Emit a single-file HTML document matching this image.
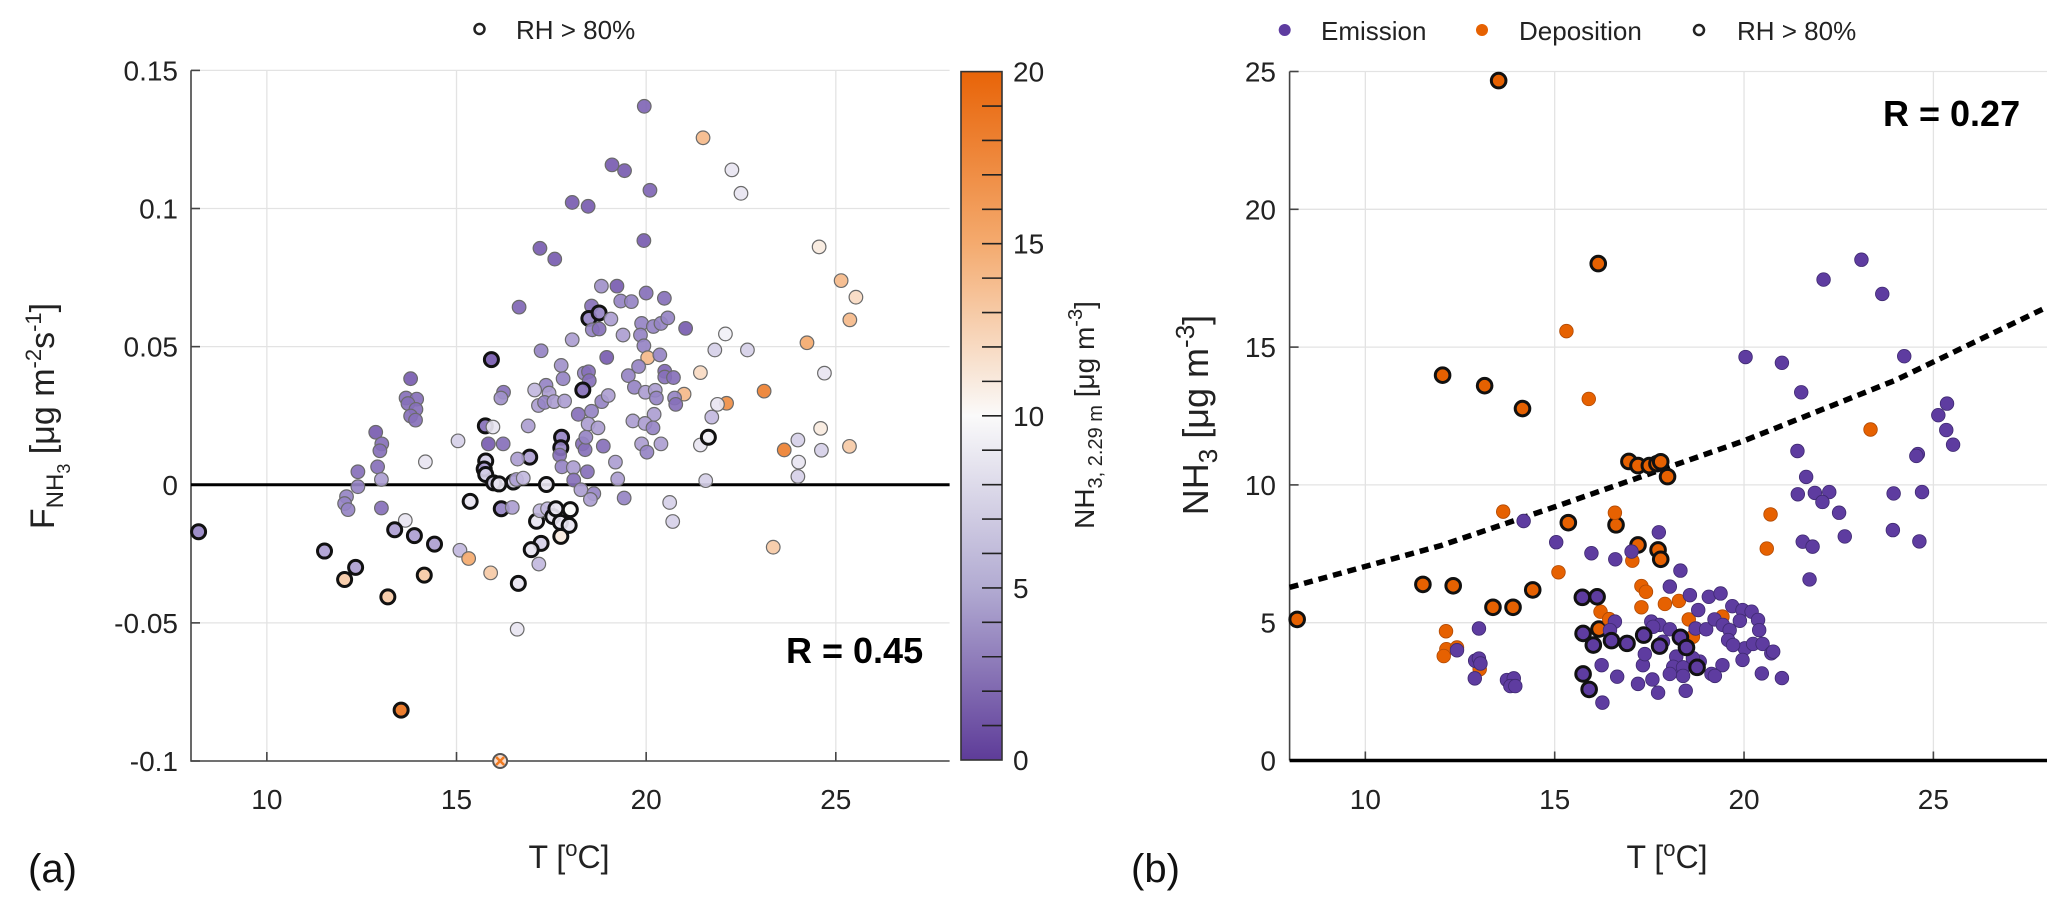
<!DOCTYPE html>
<html><head><meta charset="utf-8"><style>
html,body{margin:0;padding:0;background:#fff;}
svg{display:block;font-family:"Liberation Sans",Arial,sans-serif;}
</style></head><body>
<svg id="fig" width="2067" height="909" viewBox="0 0 2067 909" xmlns="http://www.w3.org/2000/svg">
<defs>
<linearGradient id="cmap" x1="0" y1="1" x2="0" y2="0">
<stop offset="0" stop-color="rgb(94,60,153)"/>
<stop offset="0.25" stop-color="rgb(178,171,210)"/>
<stop offset="0.5" stop-color="rgb(250,250,250)"/>
<stop offset="0.75" stop-color="rgb(244,170,110)"/>
<stop offset="1" stop-color="rgb(232,100,8)"/>
</linearGradient>
</defs>
<g id="pa"></g>
<g id="pb"></g>
</svg>
<script>
// ---------- Panel (a) data ----------
const aX = [8.2,19.95,21.5,22.26,22.5,19.1,19.43,20.1,18.05,18.47,19.94,17.2,17.59,16.65,24.56,18.82,19.23,19.33,19.61,20.0,20.48,18.56,18.49,18.76,19.07,18.58,18.76,19.39,18.05,19.88,20.19,20.39,20.57,21.04,22.09,19.85,19.94,21.81,22.67,24.24,17.23,18.96,20.04,20.36,15.92,17.76,19.8,21.43,24.7,13.79,17.81,18.37,18.48,19.53,20.49,20.49,20.72,18.5,17.36,17.06,18.33,19.69,19.98,20.24,21.0,23.11,22.12,21.88,13.67,13.95,13.72,13.93,13.79,13.92,16.24,16.17,17.44,17.16,17.32,17.57,17.85,18.83,19.0,20.27,20.75,20.78,18.21,18.56,20.21,21.73,18.47,18.73,19.65,19.97,20.18,16.89,15.76,15.96,12.87,13.03,12.98,15.04,14.18,12.92,12.4,13.02,12.4,12.1,12.05,12.14,13.02,15.84,16.23,15.77,15.73,15.77,15.98,16.12,16.5,16.58,16.76,16.93,16.61,17.37,17.77,17.75,17.72,17.78,18.08,18.09,18.45,18.32,18.39,18.87,18.41,19.19,19.25,19.88,20.02,20.39,21.43,21.64,21.57,23.64,24.6,24.0,24.02,24.0,24.62,20.62,20.7,19.42,18.28,18.62,18.53,15.36,16.18,16.47,17.11,17.2,17.4,17.54,17.62,17.74,18.0,17.97,17.75,17.23,16.97,17.17,13.65,13.37,13.89,14.42,11.52,15.09,15.32,12.34,15.9,14.15,12.05,16.63,13.19,23.35,25.14,25.53,25.37,25.36,16.6,13.54];
const aY = [-0.017,0.137,0.1256,0.114,0.1055,0.1158,0.1137,0.1066,0.1022,0.1008,0.0884,0.0856,0.0817,0.0643,0.0861,0.0719,0.0719,0.0665,0.0663,0.0694,0.0675,0.0647,0.0602,0.0622,0.06,0.0561,0.0564,0.0542,0.0525,0.0584,0.0573,0.0584,0.0604,0.0566,0.0546,0.0542,0.0503,0.0488,0.0488,0.0514,0.0485,0.0461,0.046,0.047,0.0453,0.0432,0.0428,0.0406,0.0404,0.0384,0.0384,0.0404,0.0409,0.0395,0.0411,0.039,0.0388,0.0377,0.036,0.0343,0.0343,0.0353,0.0335,0.0342,0.0328,0.0339,0.0295,0.0291,0.0314,0.031,0.0294,0.0273,0.0249,0.0234,0.0335,0.0314,0.0332,0.0287,0.0298,0.0301,0.0303,0.0301,0.0323,0.0314,0.0314,0.0291,0.0255,0.0266,0.0255,0.0245,0.022,0.0206,0.0231,0.0222,0.0206,0.0213,0.0213,0.0209,0.019,0.0148,0.0123,0.0159,0.0083,0.0065,0.0047,0.0019,-0.0007,-0.0043,-0.0068,-0.009,-0.0084,0.0148,0.0148,0.0086,0.0057,0.0037,0.0007,0.0003,0.001,0.0019,0.0024,0.01,0.0093,0.0001,0.0172,0.0134,0.0107,0.0065,0.0062,0.0017,0.0047,0.0148,0.0127,0.014,0.0172,0.0082,0.0021,0.0148,0.0118,0.0148,0.0144,0.0172,0.0015,0.0126,0.0204,0.0162,0.0082,0.003,0.0125,-0.0064,-0.0133,-0.0048,-0.0018,-0.0032,-0.0053,-0.006,-0.0087,-0.0082,-0.0132,-0.0094,-0.0087,-0.0115,-0.0087,-0.0136,-0.009,-0.0147,-0.0187,-0.0212,-0.0235,-0.0287,-0.0129,-0.0163,-0.0184,-0.0215,-0.024,-0.0237,-0.0267,-0.0299,-0.0319,-0.0327,-0.0343,-0.0357,-0.0406,-0.0226,0.0739,0.0679,0.0597,0.0139,-0.0523,-0.0816];
const aC = [5,3.5,14,9,9,3,3,3.5,3,3,3,3,3,3.5,11,5.5,3,5,5,4,4,4,5,5,6,5,4,6,6,5,5,5,5,3,9.5,5,5,8,8,15,5,3,14,5,3,5.5,5,12,9,3,5,5,4,5,3.5,4,4,4,5,7,4,5,6,6,14,18,17,9,4,4,4,4,4,4,4,5.5,6,6,5,6,6,5,6,5,5,4,4,5,6,7,6,6,6,6,5,6,4,9,3,4,4,8,9,4,4,6,5,5,5,5,4,3,4,8,6,8,8,9,8,6,7,6,6,9,5,5,4,5,6,4,4,4,4,4,5,6,6,6,5,6,9,9.5,8,18,11,8,9,8,8,8,8,5,6,5,6,9,5,6,9,7,7,9,9,9,10,9,11,8,9,7,9,6,6,6,6,7,15,6,13,13,13,9,13,13,14,12,14,13,9,19];
// 1-based indices of points with RH > 80% (bold outline)
const aBoldIdx = [1,23,24,45,61,97,114,115,116,117,118,119,122,124,125,126,142,156,157,159,162,163,164,165,166,167,168,169,172,173,174,175,178,180,181,182,183,190];
const aSpecialX = [16.15];
const aSpecialY = [-0.1];
const aYTicks = [0.15,0.1,0.05,0,-0.05,-0.1];
const aYTickLabels = ["0.15","0.1","0.05","0","-0.05","-0.1"];
const xTicks = [10,15,20,25];
const cbTicks = [20,15,10,5,0];

// ---------- Panel (b) data ----------
const bX = [13.52,16.15,12.04,13.15,14.15,16.96,17.2,17.5,17.7,17.8,17.98,15.36,16.62,17.2,17.73,17.8,8.2,11.52,12.32,13.37,13.9,14.42,16.17,
15.31,15.9,13.64,16.59,17.05,15.1,12.13,12.14,12.07,12.42,13.02,23.34,20.7,20.6,19.42,17.29,17.41,17.29,17.91,18.28,16.21,16.44,18.54,19.43,18.65,
14.18,15.04,15.97,17.03,16.6,23.1,22.1,23.65,20.04,21.0,24.23,21.51,25.36,25.13,25.34,25.52,21.41,24.59,24.55,21.42,21.87,22.25,22.07,22.51,23.95,24.7,21.55,21.81,22.66,23.93,24.63,21.73,21.0,20.47,13.0,12.42,12.9,13.0,13.04,12.89,13.74,13.92,13.83,13.96,
18.32,18.04,18.57,19.07,19.38,16.59,17.55,17.77,18.04,18.79,18.72,19.0,19.22,19.44,19.69,19.96,20.2,19.89,20.37,20.4,19.62,19.58,20.02,20.24,20.49,20.72,20.77,19.96,19.71,19.43,19.14,19.23,18.83,18.65,18.21,18.13,18.39,18.39,18.04,18.46,17.73,17.58,17.2,17.33,17.38,16.65,16.24,16.26,16.46,17.6,17.86,
17.75,21.64,15.73,16.12,15.75,16.02,16.5,16.91,17.35,17.77,18.32,18.48,18.76,15.75,15.91];
const bY = [24.67,18.03,13.98,13.6,12.77,10.85,10.7,10.7,10.77,10.84,10.3,8.63,8.55,7.82,7.64,7.3,5.12,6.39,6.34,5.56,5.56,6.19,4.77,
15.58,13.12,9.03,8.99,7.25,6.83,4.69,4.04,3.79,4.1,3.31,12.01,8.93,7.69,5.19,6.33,6.12,5.56,5.68,5.79,5.4,5.13,5.12,5.22,4.49,
8.69,7.92,7.52,7.58,7.3,18.17,17.45,16.93,14.64,14.43,14.67,13.36,12.95,12.53,11.99,11.46,11.23,11.12,11.05,9.66,9.71,9.74,9.38,8.99,9.69,9.74,7.94,7.76,8.13,8.36,7.95,6.57,2.99,3.16,4.79,4.0,3.62,3.7,3.52,2.98,2.92,2.98,2.7,2.7,
6.89,6.31,6.0,5.94,6.06,5.04,5.04,4.92,4.76,5.46,4.79,4.76,5.12,4.92,5.6,5.46,5.4,5.07,5.1,4.73,4.73,4.37,4.07,4.23,4.23,3.89,3.95,3.65,4.19,3.46,3.14,3.07,3.59,3.71,3.77,3.4,3.38,3.07,3.14,2.53,2.46,2.94,2.78,3.46,3.86,3.04,3.46,2.1,4.73,4.85,4.31,
8.28,10.29,5.92,5.94,4.61,4.19,4.35,4.25,4.55,4.15,4.47,4.1,3.38,3.14,2.58];
const bType = "ddddddddddddddddddddddd"+"ddddddddddddddddddddddddd"+"eeeeeeeeeeeeeeeeeeeeeeeeeeeeeeeeeeeeeeeeeeeeee"+"eeeeeeeeeeeeeeeeeeeeeeeeeeeeeeeeeeeeeeeeeeeeeeeeeee"+"eeeeeeeeeeeeeee";
const bRH = "11111111111111111111111"+"0000000000000000000000000"+"0000000000000000000000000000000000000000000000"+"000000000000000000000000000000000000000000000000000"+"111111111111111";
const fitX = [8,12,15,20,24,28];
const fitY = [6.28,7.8,9.2,11.6,13.8,16.45];
const bYTicks = [0,5,10,15,20,25];

// ---------- helpers ----------
const NS = "http://www.w3.org/2000/svg";
function mk(parent, tag, attrs, text){
  const e = document.createElementNS(NS, tag);
  for (const k in attrs) e.setAttribute(k, attrs[k]);
  if (text !== undefined) e.textContent = text;
  parent.appendChild(e);
  return e;
}
const A = {x0:8,x1:28,px0:191,px1:949.6,y0:-0.1,y1:0.15,py0:761,py1:70.4};
function axA(x){return A.px0+(x-A.x0)*(A.px1-A.px0)/(A.x1-A.x0);}
function ayA(y){return A.py0+(y-A.y0)*(A.py1-A.py0)/(A.y1-A.y0);}
const B = {x0:8,x1:28,px0:1289.6,px1:2047,y0:0,y1:25,py0:760.5,py1:71.5};
function axB(x){return B.px0+(x-B.x0)*(B.px1-B.px0)/(B.x1-B.x0);}
function ayB(y){return B.py0+(y-B.y0)*(B.py1-B.py0)/(B.y1-B.y0);}
function cmap(c){
  const st=[[0,94,60,153],[3,120,92,176],[5,150,132,196],[7.5,205,198,228],[10,250,250,250],[15,244,170,110],[20,232,100,8]];
  c=Math.max(0,Math.min(20,c));
  for(let i=0;i<st.length-1;i++){
    if(c<=st[i+1][0]){const t=(c-st[i][0])/(st[i+1][0]-st[i][0]);
      const r=Math.round(st[i][1]+t*(st[i+1][1]-st[i][1])),g=Math.round(st[i][2]+t*(st[i+1][2]-st[i][2])),b=Math.round(st[i][3]+t*(st[i+1][3]-st[i][3]));
      return `rgb(${r},${g},${b})`;}
  }
  return "rgb(232,100,8)";
}

// ---------- Panel (a) ----------
const pa = document.getElementById("pa");
const gridA = mk(pa,"g",{});


xTicks.forEach(t=>{
  const l=mk(gridA,"line",{x1:axA(t),x2:axA(t),y1:A.py1,y2:A.py0,stroke:"#e3e3e3","stroke-width":1.3});
  
  
});
aYTicks.forEach(t=>{
  const l=mk(gridA,"line",{x1:A.px0,x2:A.px1,y1:ayA(t),y2:ayA(t),stroke:"#e3e3e3","stroke-width":1.3});
  
  
});
const axl=mk(pa,"path",{d:`M${A.px0},${A.py1} V${A.py0} H${A.px1}`,fill:"none",stroke:"#444","stroke-width":1.6});


aYTicks.forEach((t,i)=>{
  mk(pa,"line",{x1:A.px0,x2:A.px0+9,y1:ayA(t),y2:ayA(t),stroke:"#444","stroke-width":1.6});
  const tx=mk(pa,"text",{x:178,y:ayA(t)+10,"text-anchor":"end","font-size":28,fill:"#222"},aYTickLabels[i]);
  
  
});
xTicks.forEach(t=>{
  mk(pa,"line",{x1:axA(t),x2:axA(t),y1:A.py0,y2:A.py0-9,stroke:"#444","stroke-width":1.6});
  const tx=mk(pa,"text",{x:axA(t),y:809,"text-anchor":"middle","font-size":28,fill:"#222"},String(t));
  
  
});
const zl=mk(pa,"line",{x1:A.px0,x2:A.px1,y1:ayA(0),y2:ayA(0),stroke:"#000","stroke-width":3});


const boldSet = new Set(aBoldIdx.map(k=>k-1));
for(let i=0;i<aX.length;i++){
  const bold=boldSet.has(i);
  const c=mk(pa,"circle",{cx:axA(aX[i]),cy:ayA(aY[i]),r:bold?7:6.8,fill:cmap(aC[i]),"fill-opacity":0.92,stroke:bold?"#111":"#6a6a6a","stroke-width":bold?3:1.2});
  
  
}
for(let i=0;i<aSpecialX.length;i++){
  const cx=axA(aSpecialX[i]),cy=ayA(aSpecialY[i]);
  const c=mk(pa,"circle",{cx:cx,cy:cy,r:7,fill:"#f8dccb",stroke:"#555","stroke-width":2});
  
  
  mk(pa,"path",{d:`M${cx-4},${cy-4}L${cx+4},${cy+4}M${cx+4},${cy-4}L${cx-4},${cy+4}`,stroke:"#f07a20","stroke-width":2.5});
}
const ra=mk(pa,"text",{x:786,y:663,"font-size":36,"font-weight":"bold",fill:"#000"},"R = 0.45");


const lga=mk(pa,"g",{});


mk(lga,"circle",{cx:479.5,cy:29,r:5,fill:"#fff",stroke:"#222","stroke-width":2.5});
mk(lga,"text",{x:516,y:39,"font-size":26,fill:"#222"},"RH > 80%");
const xta=mk(pa,"text",{x:569,y:868,"text-anchor":"middle","font-size":32,fill:"#222"});


xta.innerHTML='T [<tspan dy="-12" font-size="22">o</tspan><tspan dy="12">C]</tspan>';
const yta=mk(pa,"text",{x:0,y:0,"text-anchor":"middle","font-size":34,fill:"#222",transform:"translate(54,416) rotate(-90)"});


yta.innerHTML='F<tspan dy="9" font-size="24">NH</tspan><tspan dy="7" font-size="18">3</tspan><tspan dy="-16"> [μg m</tspan><tspan dy="-13" font-size="22">-2</tspan><tspan dy="13">s</tspan><tspan dy="-13" font-size="22">-1</tspan><tspan dy="13">]</tspan>';
const la=mk(pa,"text",{x:28,y:882,"font-size":40,fill:"#111"},"(a)");


const cb=mk(pa,"g",{});


const cbTop=71.6,cbBot=760,cbL=961,cbR=1002;
mk(cb,"rect",{x:cbL,y:cbTop,width:cbR-cbL,height:cbBot-cbTop,fill:"url(#cmap)",stroke:"#333","stroke-width":1.6});
function cbY(v){return cbBot+(v-0)*(cbTop-cbBot)/20;}
for(let v=1;v<20;v++){
  mk(cb,"line",{x1:cbR-20,x2:cbR,y1:cbY(v),y2:cbY(v),stroke:"#222","stroke-width":1.6});
}
cbTicks.forEach(v=>{
  const tx=mk(cb,"text",{x:1013,y:cbY(v)+10,"font-size":28,fill:"#222"},String(v));
  
  
});
const cbl=mk(cb,"text",{x:0,y:0,"text-anchor":"middle","font-size":28,fill:"#222",transform:"translate(1094,415) rotate(-90)"});


cbl.innerHTML='NH<tspan dy="8" font-size="20">3, 2.29 m</tspan><tspan dy="-8"> [μg m</tspan><tspan dy="-12" font-size="20">-3</tspan><tspan dy="12">]</tspan>';

// ---------- Panel (b) ----------
const pb=document.getElementById("pb");
const gridB=mk(pb,"g",{});


xTicks.forEach(t=>{
  const l=mk(gridB,"line",{x1:axB(t),x2:axB(t),y1:B.py1,y2:B.py0,stroke:"#e3e3e3","stroke-width":1.3});
  
  
});
bYTicks.forEach(t=>{
  const l=mk(gridB,"line",{x1:B.px0,x2:B.px1,y1:ayB(t),y2:ayB(t),stroke:"#e3e3e3","stroke-width":1.3});
  
  
});
const axb=mk(pb,"path",{d:`M${B.px0},${B.py1} V${B.py0}`,fill:"none",stroke:"#444","stroke-width":1.6});


bYTicks.forEach(t=>{
  mk(pb,"line",{x1:B.px0,x2:B.px0+9,y1:ayB(t),y2:ayB(t),stroke:"#444","stroke-width":1.6});
  const tx=mk(pb,"text",{x:1276,y:ayB(t)+10,"text-anchor":"end","font-size":28,fill:"#222"},String(t));
  
  
});
xTicks.forEach(t=>{
  mk(pb,"line",{x1:axB(t),x2:axB(t),y1:B.py0,y2:B.py0-9,stroke:"#444","stroke-width":1.6});
  const tx=mk(pb,"text",{x:axB(t),y:809,"text-anchor":"middle","font-size":28,fill:"#222"},String(t));
  
  
});
let fd="";
fitX.forEach((x,i)=>{fd+=(i?"L":"M")+axB(x).toFixed(1)+","+ayB(fitY[i]).toFixed(1);});
const fc=mk(pb,"path",{d:fd,fill:"none",stroke:"#000","stroke-width":5.5,"stroke-dasharray":"9 6"});


for(let i=0;i<bX.length;i++){
  const bold=bRH[i]==="1";
  const dep=bType[i]==="d";
  const c=mk(pb,"circle",{cx:axB(bX[i]),cy:ayB(bY[i]),r:bold?7.3:6.8,fill:dep?"#e66101":"#5e3ca0",stroke:bold?"#111":(dep?"#b04a05":"#3f2a70"),"stroke-width":bold?3:0.8});
  
  
}
const bl=mk(pb,"line",{x1:B.px0,x2:B.px1,y1:B.py0,y2:B.py0,stroke:"#000","stroke-width":3.5});


const rb=mk(pb,"text",{x:1883,y:126,"font-size":36,"font-weight":"bold",fill:"#000"},"R = 0.27");


const lgb=mk(pb,"g",{});


mk(lgb,"circle",{cx:1284.7,cy:30,r:6,fill:"#5e3ca0"});
mk(lgb,"text",{x:1321,y:40,"font-size":26,fill:"#222"},"Emission");
mk(lgb,"circle",{cx:1482,cy:30,r:6,fill:"#e66101"});
mk(lgb,"text",{x:1519,y:40,"font-size":26,fill:"#222"},"Deposition");
mk(lgb,"circle",{cx:1699,cy:30,r:5,fill:"#fff",stroke:"#222","stroke-width":2.5});
mk(lgb,"text",{x:1737,y:40,"font-size":26,fill:"#222"},"RH > 80%");
const xtb=mk(pb,"text",{x:1667,y:868,"text-anchor":"middle","font-size":32,fill:"#222"});


xtb.innerHTML='T [<tspan dy="-12" font-size="22">o</tspan><tspan dy="12">C]</tspan>';
const ytb=mk(pb,"text",{x:0,y:0,"text-anchor":"middle","font-size":36,fill:"#222",transform:"translate(1208,415) rotate(-90)"});


ytb.innerHTML='NH<tspan dy="9" font-size="26">3</tspan><tspan dy="-9"> [μg m</tspan><tspan dy="-14" font-size="26">-3</tspan><tspan dy="14">]</tspan>';
const lb=mk(pb,"text",{x:1131,y:882,"font-size":40,fill:"#111"},"(b)");


</script>
</body></html>
